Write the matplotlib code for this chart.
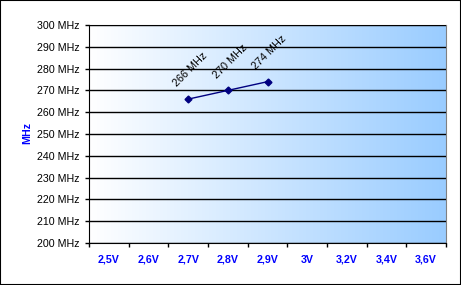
import numpy as np
from matplotlib import pyplot as plt
from matplotlib.patches import Rectangle
from matplotlib.colors import LinearSegmentedColormap

plt.rcParams['font.family'] = ['Liberation Sans', 'DejaVu Sans']

# 数据
categories = ['2,5V', '2,6V', '2,7V', '2,8V', '2,9V', '3V', '3,2V', '3,4V', '3,6V']
point_cats = ['2,7V', '2,8V', '2,9V']
freq = [266, 270, 274]
y_ticks = list(range(200, 301, 10))

fig = plt.figure(figsize=(4.61, 2.85), dpi=100)
ax = fig.add_axes([89 / 461, 42 / 285, 357 / 461, 218 / 285])

# 背景渐变
cmap = LinearSegmentedColormap.from_list('bg', ['#ffffff', '#99ccff'])
grad = np.linspace(0, 1, 256).reshape(1, -1)
ax.imshow(grad, cmap=cmap, aspect='auto', extent=[0, 1, 0, 1],
          transform=ax.transAxes, zorder=0)

xpos = [categories.index(c) for c in point_cats]
ax.plot(xpos, freq, color='#000080', marker='D', markersize=3.5, linewidth=1, zorder=3)

for x, v in zip(xpos, freq):
    ax.annotate('%d MHz' % v, (x, v), xytext=(1.5, 21), textcoords='offset points',
                rotation=45, ha='center', va='center', fontsize=7.8, color='black')

ax.set_xlim(-0.5, len(categories) - 0.5)
ax.set_ylim(200, 300)
ax.set_yticks(y_ticks)
ax.set_yticklabels(['%d MHz' % t for t in y_ticks], fontsize=7.7)
ax.yaxis.grid(True, color='black', linewidth=1)
ax.set_axisbelow(False)

ax.set_xticks(np.arange(len(categories) + 1) - 0.5)
ax.set_xticklabels([])
ax.set_xticks(np.arange(len(categories)), minor=True)
ax.set_xticklabels(categories, minor=True, fontsize=7.7, fontweight='bold', color='#0000ff')
ax.tick_params(axis='x', which='minor', length=0, pad=8.5)
ax.tick_params(axis='both', which='major', length=3, width=1, color='black')

for s in ['top', 'right']:
    ax.spines[s].set_color('#808080')
for s in ['left', 'bottom']:
    ax.spines[s].set_color('black')

fig.text(27 / 461, 1 - 133 / 285, 'MHz', rotation=90, ha='center', va='center',
         fontsize=7.7, fontweight='bold', color='#0000ff')

fig.patches.append(Rectangle((0, 0), 1, 1, transform=fig.transFigure, fill=False,
                             edgecolor='black', linewidth=1.5))

plt.savefig('out.png', dpi=100)
